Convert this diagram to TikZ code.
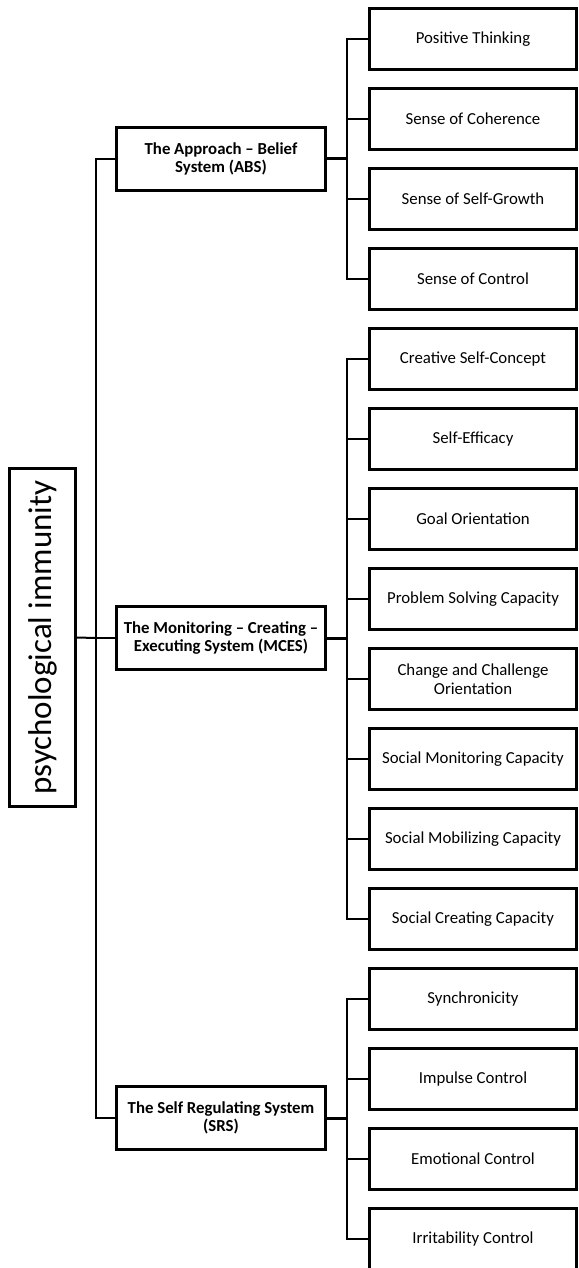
\documentclass[tikz,border=0pt]{standalone}
\usepackage{fontspec}
\setmainfont{Carlito}
\begin{document}
\begin{tikzpicture}[x=1pt,y=-1pt,
  childbox/.style={draw=black,line width=3pt,minimum width=207pt,minimum height=61pt,inner sep=1pt,align=center,font=\fontsize{16.8}{18.5}\selectfont},
  mainbox/.style={draw=black,line width=3pt,minimum width=209pt,minimum height=63pt,inner sep=1pt,align=center,font=\fontsize{16.8}{18.5}\selectfont\bfseries},
  rootbox/.style={draw=black,line width=2.6pt,minimum width=338pt,minimum height=66pt,inner sep=0pt,rotate=90,font=\fontsize{33}{36}\selectfont},
  conn/.style={line width=2pt},
  mconn/.style={line width=3pt}]
\useasboundingbox (0,0) rectangle (578,1268);
% root
\node[rootbox] (root) at (42.5,637.5) {psychological immunity};
% main boxes
\node[mainbox] (abs) at (221,159) {The Approach – Belief\\System (ABS)};
\node[mainbox] (mces) at (221,638) {The Monitoring – Creating –\\Executing System (MCES)};
\node[mainbox] (srs) at (221,1118) {The Self Regulating System\\(SRS)};
% children
\node[childbox] (a1) at (473,39) {Positive Thinking};
\node[childbox] (a2) at (473,119) {Sense of Coherence};
\node[childbox] (a3) at (473,199) {Sense of Self-Growth};
\node[childbox] (a4) at (473,279) {Sense of Control};
\node[childbox] (m1) at (473,359) {Creative Self-Concept};
\node[childbox] (m2) at (473,439) {Self-Efficacy};
\node[childbox] (m3) at (473,519) {Goal Orientation};
\node[childbox] (m4) at (473,599) {Problem Solving Capacity};
\node[childbox] (m5) at (473,679) {Change and Challenge\\Orientation};
\node[childbox] (m6) at (473,759) {Social Monitoring Capacity};
\node[childbox] (m7) at (473,839) {Social Mobilizing Capacity};
\node[childbox] (m8) at (473,919) {Social Creating Capacity};
\node[childbox] (s1) at (473,999) {Synchronicity};
\node[childbox] (s2) at (473,1079) {Impulse Control};
\node[childbox] (s3) at (473,1159) {Emotional Control};
\node[childbox] (s4) at (473,1239) {Irritability Control};
% root connectors
\coordinate (rj) at (96,638);
\draw[conn] (root.south) -- (rj);
\draw[conn] (abs.west) -- (abs.west -| rj) -- (srs.west -| rj) -- (srs.west);
\draw[conn] (rj) -- (mces.west);
% group junctions
\coordinate (ja) at (347,159);
\coordinate (jm) at (347,638);
\coordinate (js) at (347,1118);
\draw[mconn] (abs.east) -- (ja);
\draw[mconn] (mces.east) -- (jm);
\draw[mconn] (srs.east) -- (js);
\draw[conn] (a1.west) -- (a1.west -| ja) -- (a4.west -| ja) -- (a4.west);
\foreach \n in {a2,a3} \draw[conn] (\n.west -| ja) -- (\n.west);
\draw[conn] (m1.west) -- (m1.west -| jm) -- (m8.west -| jm) -- (m8.west);
\foreach \n in {m2,m3,m4,m5,m6,m7} \draw[conn] (\n.west -| jm) -- (\n.west);
\draw[conn] (s1.west) -- (s1.west -| js) -- (s4.west -| js) -- (s4.west);
\foreach \n in {s2,s3} \draw[conn] (\n.west -| js) -- (\n.west);
\end{tikzpicture}
\end{document}
